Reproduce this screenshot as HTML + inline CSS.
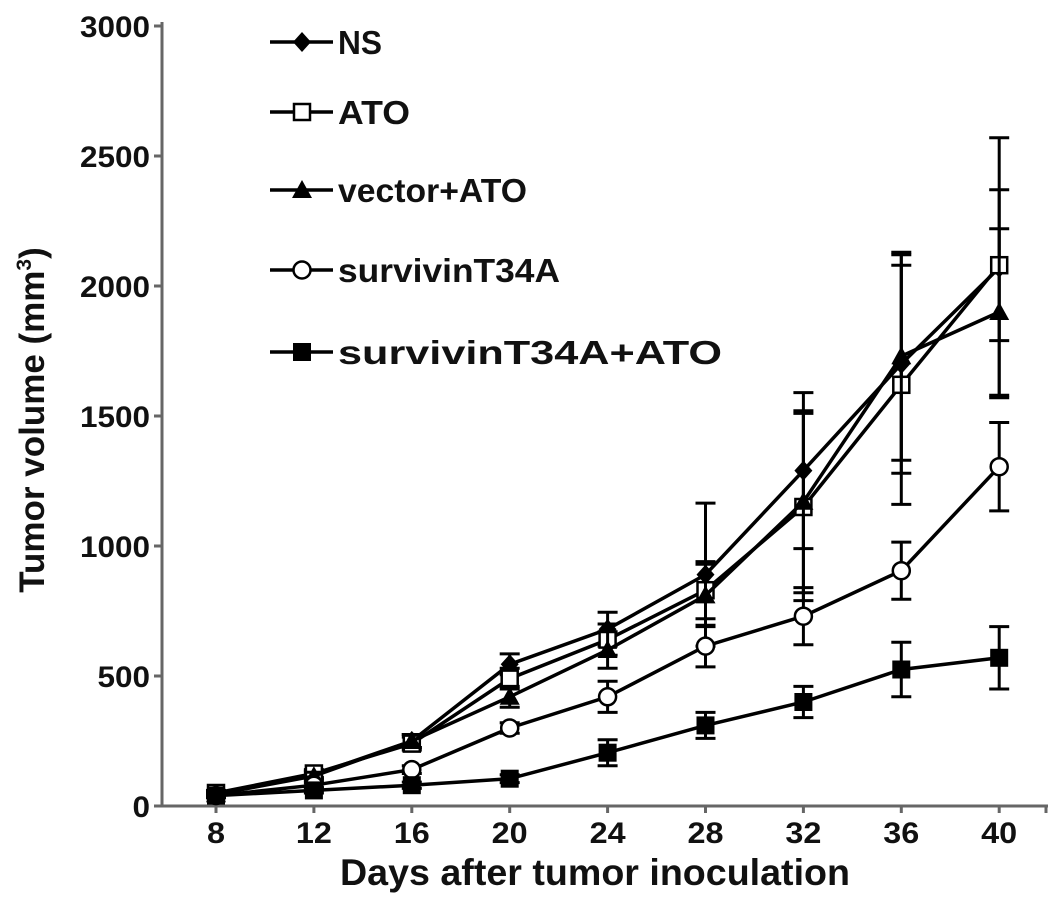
<!DOCTYPE html>
<html><head><meta charset="utf-8"><style>
body{margin:0;background:#fff}
svg text{font-family:"Liberation Sans",Arial,sans-serif;font-weight:bold;fill:#111}
</style></head><body>
<svg id="c" width="1063" height="899"></svg>
<script>
const days=[8,12,16,20,24,28,32,36,40];
const yTicks=[0,500,1000,1500,2000,2500,3000];
const seriesNames=["NS","ATO","vector+ATO","survivinT34A","survivinT34A+ATO"];
const nsVals=[45,120,250,545,680,890,1290,1700,2070];
const atoVals=[50,125,240,490,640,830,1150,1620,2080];
const vecVals=[45,115,250,420,600,810,1170,1730,1900];
const t34Vals=[40,80,140,300,420,615,730,905,1305];
const t34atoVals=[40,60,80,105,205,310,400,525,570];
const nsErr=[10,15,25,40,65,275,300,420,500];
const atoErr=[10,15,25,40,60,110,360,460,290];
const vecErr=[10,15,25,40,70,120,350,400,320];
const t34Err=[8,10,15,20,60,80,110,110,170];
const t34atoErr=[8,10,12,15,50,50,60,105,120];
const allVals=[nsVals,atoVals,vecVals,t34Vals,t34atoVals];
const allErr=[nsErr,atoErr,vecErr,t34Err,t34atoErr];
const markers=["diamond","square-open","triangle","circle-open","square"];

const NS="http://www.w3.org/2000/svg";
const svg=document.getElementById('c');
const X=d=>216+(d-8)/4*97.9;
const Y=v=>806-v/500*130;
function el(t,a,p){const e=document.createElementNS(NS,t);for(const k in a)e.setAttribute(k,a[k]);(p||svg).appendChild(e);return e;}

const ax=el('g',{});


el('line',{x1:162,y1:22,x2:162,y2:806,stroke:'#666','stroke-width':3},ax);
el('line',{x1:160,y1:806,x2:1048,y2:806,stroke:'#666','stroke-width':3},ax);
yTicks.forEach(v=>{
  el('line',{x1:154,y1:Y(v),x2:162,y2:Y(v),stroke:'#666','stroke-width':3},ax);
  const s=String(v);
  const t=el('text',{x:150,y:Y(v)+11,'text-anchor':'end','font-size':30,textLength:s.length*17.5,lengthAdjust:'spacingAndGlyphs'},ax);t.textContent=s;
  
  
});
days.forEach(d=>{
  el('line',{x1:X(d),y1:806,x2:X(d),y2:813,stroke:'#666','stroke-width':3},ax);
  const s=String(d);
  const t=el('text',{x:X(d),y:843,'text-anchor':'middle','font-size':30,textLength:s.length*18,lengthAdjust:'spacingAndGlyphs'},ax);t.textContent=s;
  
  
});
el('line',{x1:1046,y1:806,x2:1046,y2:813,stroke:'#666','stroke-width':3},ax);
let t=el('text',{x:595,y:885,'text-anchor':'middle','font-size':37,textLength:510,lengthAdjust:'spacingAndGlyphs'});t.textContent='Days after tumor inoculation';


t=el('text',{x:0,y:0,'text-anchor':'middle','font-size':35,transform:'translate(44,420) rotate(-90)'});
t.innerHTML='Tumor volume (mm<tspan font-size="21" dy="-13">3</tspan><tspan dy="13">)</tspan>';



function marker(g,type,x,y){
  const s=9;
  if(type==='diamond')el('polygon',{points:`${x},${y-s-1} ${x+s},${y} ${x},${y+s+1} ${x-s},${y}`,fill:'#000'},g);
  else if(type==='square-open')el('rect',{x:x-8,y:y-8,width:16,height:16,fill:'#fff',stroke:'#000','stroke-width':2.5},g);
  else if(type==='triangle')el('polygon',{points:`${x},${y-10} ${x+10},${y+8} ${x-10},${y+8}`,fill:'#000'},g);
  else if(type==='circle-open')el('circle',{cx:x,cy:y,r:8.5,fill:'#fff',stroke:'#000','stroke-width':2.5},g);
  else el('rect',{x:x-9,y:y-9,width:18,height:18,fill:'#000'},g);
}
allVals.forEach((vals,si)=>{
  const g=el('g',{});
  
  
  vals.forEach((v,i)=>{
    const e=allErr[si][i],x=X(days[i]);
    el('line',{x1:x,y1:Y(v+e),x2:x,y2:Y(v-e),stroke:'#000','stroke-width':3},g);
    el('line',{x1:x-10,y1:Y(v+e),x2:x+10,y2:Y(v+e),stroke:'#000','stroke-width':3},g);
    el('line',{x1:x-10,y1:Y(v-e),x2:x+10,y2:Y(v-e),stroke:'#000','stroke-width':3},g);
  });
  el('polyline',{points:vals.map((v,i)=>X(days[i])+','+Y(v)).join(' '),fill:'none',stroke:'#000','stroke-width':3.5},g);
  vals.forEach((v,i)=>marker(g,markers[si],X(days[i]),Y(v)));
});
const legY=[42,112,190,270,352];
const legW=[44,72,189,222,384];
seriesNames.forEach((n,i)=>{
  const g=el('g',{});
  
  
  el('line',{x1:270,y1:legY[i],x2:333,y2:legY[i],stroke:'#000','stroke-width':3.5},g);
  marker(g,markers[i],302,legY[i]);
  const tt=el('text',{x:338,y:legY[i]+12,'font-size':33,textLength:legW[i],lengthAdjust:'spacingAndGlyphs'},g);tt.textContent=n;
});
</script>
</body></html>
